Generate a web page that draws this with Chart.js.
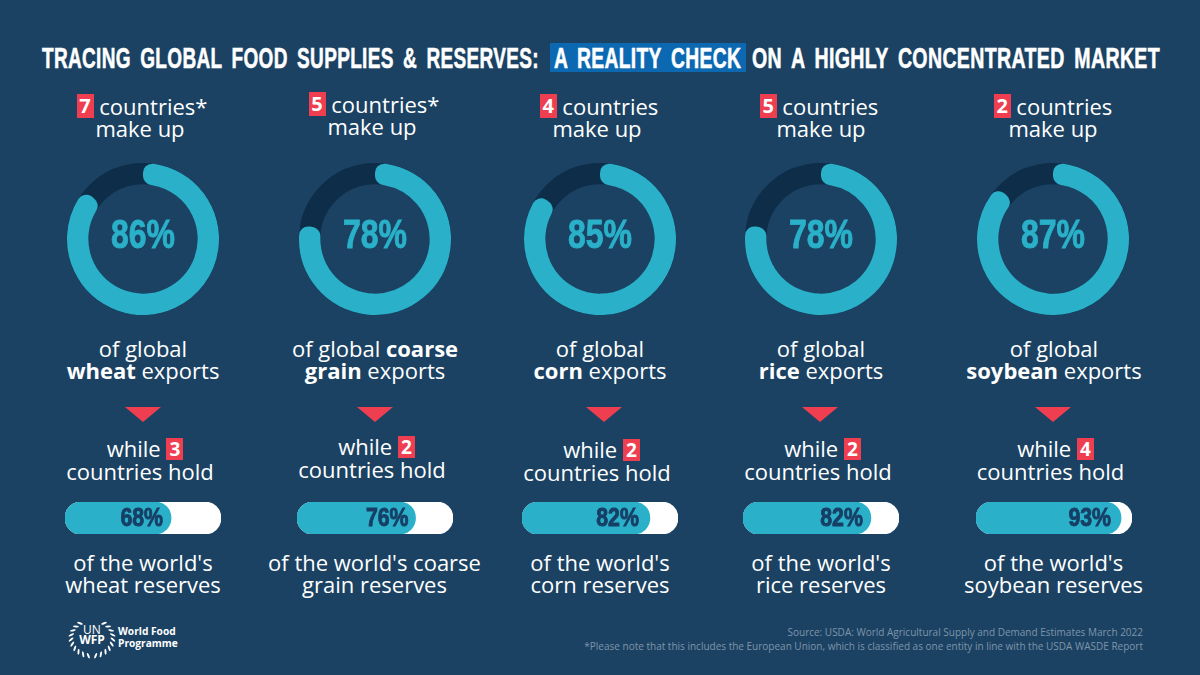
<!DOCTYPE html>
<html>
<head>
<meta charset="utf-8">
<script src="https://cdn.jsdelivr.net/npm/chart.js@4/dist/chart.umd.min.js"></script>
<style>
  html, body { margin: 0; padding: 0; }
  body { width: 1200px; height: 675px; background: #1b4263; position: relative; overflow: hidden;
         font-family: "Open Sans", sans-serif; color: #fff; }
  .abs { position: absolute; }
  .txt { position: absolute; width: 240px; height: 22px; text-align: center; font-size: 22px; line-height: 22px; white-space: nowrap; }
  .num { display: inline-block; background: #ee3e50; font-weight: 700; line-height: 24px; height: 24px; width: 17px; margin-top: -1px; margin-bottom: -1px; text-align: center; font-size: 20px; vertical-align: top; }
  .num.low { height: 22px; line-height: 22px; margin-top: 1px; margin-bottom: -1px; font-size: 19px; }
  .title { position: absolute; top: 41px; font-family: "Liberation Sans", sans-serif; font-weight: 700; font-size: 30px; line-height: 34px; word-spacing: 6px; letter-spacing: 0.5px; -webkit-text-stroke: 0.6px #fff; white-space: nowrap; transform-origin: left top; }
  .tri { position: absolute; top: 407px; width: 0; height: 0; border-left: 18px solid transparent; border-right: 18px solid transparent; border-top: 15px solid #ee3e50; }
  .foot { position: absolute; right: 57px; font-size: 10px; line-height: 14px; color: #7f95a9; white-space: nowrap; }
</style>
</head>
<body>
<div class="abs" style="left:550px;top:43px;width:196px;height:29px;background:#0b68b1"></div>
<div class="title" data-w="497" style="left:42px">TRACING GLOBAL FOOD SUPPLIES &amp; RESERVES:</div>
<div class="title" data-w="187" style="left:554px">A REALITY CHECK</div>
<div class="title" data-w="408" style="left:752px">ON A HIGHLY CONCENTRATED MARKET</div>

<svg class="abs" id="wreath" style="left:66px;top:617px" width="54" height="44"></svg>
<div class="abs" style="left:68px;top:624px;width:48px;text-align:center;font-size:12px;line-height:12px">UN</div>
<div class="abs" style="left:68px;top:634px;width:48px;text-align:center;font-size:12px;line-height:12px;font-weight:700">WFP</div>
<div class="abs" style="left:118px;top:626px;font-size:10.2px;line-height:11.5px;font-weight:700;white-space:nowrap">World Food<br>Programme</div>

<div class="foot" style="top:625px">Source: USDA: World Agricultural Supply and Demand Estimates March 2022</div>
<div class="foot" style="top:639px">*Please note that this includes the European Union, which is classified as one entity in line with the USDA WASDE Report</div>

<script>
// donnees
const crops = ["wheat", "coarse grain", "corn", "rice", "soybean"];
const exportCountries = [7, 5, 4, 5, 2];
const exportShare = [86, 78, 85, 78, 87];
const reserveCountries = [3, 2, 2, 2, 4];
const reserveShare = [68, 76, 82, 82, 93];
const starred = [true, true, false, false, false];

// mise en page par colonne : centres des lignes de texte
const countriesX = [142, 374, 599, 819, 1053];
const makeUpX = [140, 372, 597, 821, 1053];
const exportsX = [143, 375, 600, 821, 1054];
const whileX = [145, 376.5, 601.5, 822.5, 1055.5];
const holdX = [140, 372, 597, 818, 1050.5];
const reservesX = [143, 374.5, 600, 821, 1053.5];
const ringX = [143, 375, 600, 821, 1053];
const pillX = [65, 297, 522, 743, 976];
const triX = [143, 375, 604, 820, 1053];
const topY = [95, 93, 95, 95, 95];
const whileY = [437, 435, 438, 437, 437];
const labelGap = [8, 7, 11, 8, 10];

const TEAL = "#2ab1c9";
const TRACK = "#0e2d49";
const NAVY = "#173f66";
const LABEL_FONT = "'Liberation Sans', sans-serif";

Chart.defaults.animation = false;
Chart.defaults.responsive = false;

function addLine(x, y, html) {
  const d = document.createElement("div");
  d.className = "txt";
  d.style.left = (x - 120) + "px";
  d.style.top = y + "px";
  d.innerHTML = html;
  document.body.appendChild(d);
}

function addCanvas(left, top, w, h) {
  const c = document.createElement("canvas");
  c.width = w;
  c.height = h;
  c.className = "abs";
  c.style.left = left + "px";
  c.style.top = top + "px";
  document.body.appendChild(c);
  return c;
}

// texte resserre horizontalement, la police etroite n'existe pas ici
function narrowText(ctx, text, x, y, size, squeeze, color, align) {
  ctx.save();
  ctx.translate(x, y);
  ctx.scale(squeeze, 1);
  ctx.fillStyle = color;
  ctx.strokeStyle = color;
  ctx.lineWidth = 0.9;
  ctx.font = "700 " + size + "px " + LABEL_FONT;
  ctx.textAlign = align;
  ctx.textBaseline = "middle";
  ctx.fillText(text, 0, 0);
  ctx.strokeText(text, 0, 0);
  ctx.restore();
}

// anneau sombre sous l'arc + pourcentage au centre
const ringPlugin = {
  id: "ringPlugin",
  beforeDatasetsDraw(chart) {
    const arc = chart.getDatasetMeta(0).data[0];
    const ctx = chart.ctx;
    ctx.save();
    ctx.strokeStyle = TRACK;
    ctx.lineWidth = arc.outerRadius - arc.innerRadius;
    ctx.beginPath();
    ctx.arc(arc.x, arc.y, (arc.outerRadius + arc.innerRadius) / 2, 0, Math.PI * 2);
    ctx.stroke();
    ctx.restore();
  },
  afterDatasetsDraw(chart) {
    const arc = chart.getDatasetMeta(0).data[0];
    narrowText(chart.ctx, chart.data.datasets[0].data[0] + "%", arc.x, arc.y - 2, 40, 0.8, TEAL, "center");
  },
};

// pourcentage cale a droite, dans la barre
const pillPlugin = {
  id: "pillPlugin",
  afterDatasetsDraw(chart) {
    const bar = chart.getDatasetMeta(0).data[0];
    const gap = chart.options.plugins.pillPlugin.gap;
    narrowText(chart.ctx, chart.data.datasets[0].data[0] + "%", bar.x - gap, bar.y + 1, 26, 0.82, NAVY, "right");
  },
};

crops.forEach((crop, i) => {
  const star = starred[i] ? "*" : "";
  addLine(countriesX[i], topY[i], `<span class="num">${exportCountries[i]}</span> countries${star}`);
  addLine(makeUpX[i], topY[i] + 22, "make up");

  new Chart(addCanvas(ringX[i] - 80, 239 - 80, 160, 160), {
    type: "doughnut",
    data: {
      labels: [crop, "other"],
      datasets: [{
        data: [exportShare[i], 100 - exportShare[i]],
        backgroundColor: [TEAL, "rgba(0,0,0,0)"],
        borderWidth: 0,
        borderRadius: 9.25,
      }],
    },
    options: {
      radius: 76,
      cutout: 57.5,
      plugins: { legend: { display: false }, tooltip: { enabled: false } },
    },
    plugins: [ringPlugin],
  });

  if (crop === "coarse grain") {
    addLine(exportsX[i], 337, "of global <b>coarse</b>");
    addLine(exportsX[i], 359, "<b>grain</b> exports");
  } else {
    addLine(exportsX[i], 337, "of global");
    addLine(exportsX[i], 359, `<b>${crop}</b> exports`);
  }

  const tri = document.createElement("div");
  tri.className = "tri";
  tri.style.left = (triX[i] - 18) + "px";
  document.body.appendChild(tri);

  addLine(whileX[i], whileY[i], `while <span class="num low">${reserveCountries[i]}</span>`);
  addLine(holdX[i], whileY[i] + 23, "countries hold");

  new Chart(addCanvas(pillX[i], 502, 156, 32), {
    type: "bar",
    data: {
      labels: [crop],
      datasets: [
        { data: [reserveShare[i]], backgroundColor: TEAL, borderRadius: 16, borderSkipped: false, order: 1 },
        { data: [100], backgroundColor: "#ffffff", borderRadius: 16, borderSkipped: false, order: 2 },
      ],
    },
    options: {
      indexAxis: "y",
      grouped: false,
      barPercentage: 1,
      categoryPercentage: 1,
      layout: { padding: 0 },
      scales: {
        x: { display: false, min: 0, max: 100 },
        y: { display: false },
      },
      plugins: { legend: { display: false }, tooltip: { enabled: false }, pillPlugin: { gap: labelGap[i] } },
    },
    plugins: [pillPlugin],
  });

  if (crop === "coarse grain") {
    addLine(reservesX[i], 551, "of the world's coarse");
    addLine(reservesX[i], 573, "grain reserves");
  } else {
    addLine(reservesX[i], 551, "of the world's");
    addLine(reservesX[i], 573, `${crop} reserves`);
  }
});

// largeur du titre calee sur l'image
document.querySelectorAll(".title").forEach((el) => {
  el.style.transform = "scaleX(" + (+el.dataset.w / el.offsetWidth) + ")";
});

// couronne du logo
const svg = document.getElementById("wreath");
let leaves = "";
[-1, 1].forEach((side) => {
  for (let a = 35; a <= 170; a += 15) {
    const r = a * Math.PI / 180;
    const x = 26 + side * 21 * Math.sin(r);
    const y = 21 - 18 * Math.cos(r);
    const rot = side * (a + 35);
    leaves += `<ellipse cx="${x}" cy="${y}" rx="1" ry="3" fill="#fff" transform="rotate(${rot} ${x} ${y})"/>`;
  }
});
svg.innerHTML = leaves;
</script>
</body>
</html>
